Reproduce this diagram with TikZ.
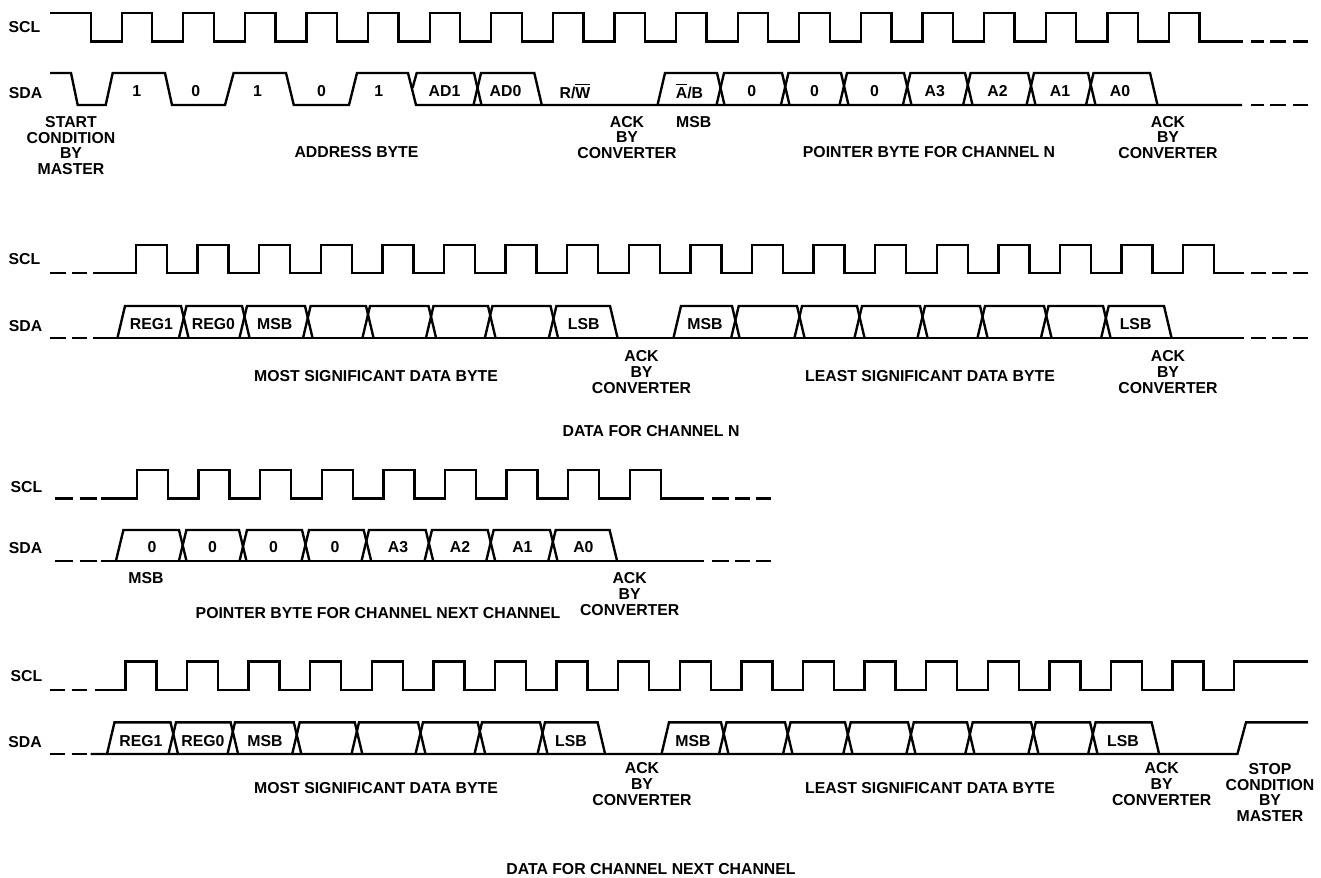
\documentclass[tikz,border=0pt]{standalone}
\usepackage{fontspec}
\setmainfont{Liberation Sans}
\usetikzlibrary{positioning}
\tikzset{
  wave/.style={line width=1.35pt,line join=miter,black},
  lbl/.style={inner sep=0pt,align=center,font=\fontsize{9}{9}\selectfont\bfseries},
}
\newcommand{\footw}{7.5}
\begin{document}
\begin{tikzpicture}[x=0.02cm,y=-0.02cm]
  \useasboundingbox (0,0) rectangle (1321,877);

  % first row
  \node[lbl] (sclA) at (24.5,27) {SCL};
  \node[lbl] (sdaA) at (25.5,92.7) {SDA};
  \draw[wave] (50,13) -- (91.3,13) -- (91.3,41.5)
    \foreach \k in {0,...,17} { -- ({121.7+61.6*\k},41.5) -- ({121.7+61.6*\k},13) -- ({152.2+61.6*\k},13) -- ({152.2+61.6*\k},41.5) }
    -- (1243,41.5);
  \draw[wave] (50,73) -- (71,73) -- (77.7,105) -- (105.7,105) -- (112.7,73) -- (165,73) -- (172,105)
    -- (225,105) -- (233.6,73) -- (286,73) -- (293.8,105) -- (349,105) -- (357,73) -- (408,73) -- (416,105) -- (1242,105);
  \draw[wave] (412.5,88) -- (416.7,73) -- (474,73) -- (481.5,105);
  \foreach \xa/\xb in {481/534.3,665/717,724/782,788.4/841,847/904,910.4/965,970.6/1028,1034/1088,1093.5/1150}
    \draw[wave] (\xa-\footw,105) -- (\xa,73) -- (\xb,73) -- (\xb+\footw,105);
  \foreach \xa/\xb in {1250.5/1264,1270/1286,1293/1308} {
    \draw[wave] (\xa,41.5) -- (\xb,41.5);
    \draw[wave] (\xa,105) -- (\xb,105);
  }
  \foreach \x/\txt [count=\i] in {136.8/1,195.7/0,257.6/1,321.5/0,378.8/1,444.5/AD1,505.5/AD0,575/{R/$\overline{\hbox{W}}$},689.5/{$\overline{\hbox{A}}$/B},751.8/0,814.5/0,874.6/0,934.8/A3,997.5/A2,1060/A1,1120/A0}
    \node[lbl] (bitA\i) at (\x,91) {\txt};
  \node[lbl] (startA) at (71,145.5) {START\\CONDITION\\BY\\MASTER};
  \node[lbl] (addrA) at (356.5,151.7) {ADDRESS BYTE};
  \node[lbl] (ackA) at (627,137.5) {ACK\\BY\\CONVERTER};
  \node[lbl] (msbA) at (693.7,121.7) {MSB};
  \node[lbl] (ptrA) at (929,151.7) {POINTER BYTE FOR CHANNEL N};
  \node[lbl] (ackB) at (1168,137.5) {ACK\\BY\\CONVERTER};

  % second row
  \node[lbl] (sclB) at (24.5,259.5) {SCL};
  \node[lbl] (sdaB) at (25.5,326) {SDA};
  \draw[wave] (93.4,273.3)
    \foreach \k in {0,...,17} { -- ({136+61.6*\k},273.3) -- ({136+61.6*\k},245) -- ({167+61.6*\k},245) -- ({167+61.6*\k},273.3) }
    -- (1244,273.3);
  \draw[wave] (93.4,337.7) -- (1244,337.7);
  \foreach \xa/\xb in {125/181,186.5/242,247/305,310.6/366,370/428.5,433.5/488,492.4/550.5,556.4/610,681/732,738.7/797,802/857,862/920,925/980,985/1044,1048.5/1103,1108.7/1164}
    \draw[wave] (\xa-\footw,337.7) -- (\xa,306) -- (\xb,306) -- (\xb+\footw,337.7);
  \foreach \xa/\xb in {49.7/66,71.5/87,1250.5/1266,1272/1287,1293/1308} {
    \draw[wave] (\xa,273.3) -- (\xb,273.3);
    \draw[wave] (\xa,337.7) -- (\xb,337.7);
  }
  \foreach \x/\txt [count=\i] in {151.5/REG1,213.4/REG0,274.8/MSB,583.7/LSB,705/MSB,1135.6/LSB}
    \node[lbl] (bitB\i) at (\x,324.3) {\txt};
  \node[lbl] (mostB) at (376,375.7) {MOST SIGNIFICANT DATA BYTE};
  \node[lbl] (ackC) at (641.5,372) {ACK\\BY\\CONVERTER};
  \node[lbl] (leastB) at (930,375.7) {LEAST SIGNIFICANT DATA BYTE};
  \node[lbl] (ackD) at (1168,372) {ACK\\BY\\CONVERTER};
  \node[lbl] (dataB) at (651,431) {DATA FOR CHANNEL N};

  % third row
  \node[lbl] (sclC) at (26.5,486.7) {SCL};
  \node[lbl] (sdaC) at (25.5,548) {SDA};
  \draw[wave] (100.8,498.3)
    \foreach \k in {0,...,8} { -- ({137+61.6*\k},498.3) -- ({137+61.6*\k},470) -- ({168+61.6*\k},470) -- ({168+61.6*\k},498.3) }
    -- (704,498.3);
  \draw[wave] (100.8,561) -- (704,561);
  \foreach \xa/\xb in {123.4/179,186.4/239,247/302,309/363.7,369/425.7,432/487.7,493.7/550,555.7/609.6}
    \draw[wave] (\xa-\footw,561) -- (\xa,530) -- (\xb,530) -- (\xb+\footw,561);
  \foreach \xa/\xb in {55.4/73,79.6/97,712/729,735/750,756/771} {
    \draw[wave] (\xa,498.3) -- (\xb,498.3);
    \draw[wave] (\xa,561) -- (\xb,561);
  }
  \foreach \x/\txt [count=\i] in {152/0,212.6/0,273.6/0,335/0,398/A3,460/A2,522.4/A1,583.4/A0}
    \node[lbl] (bitC\i) at (\x,546.7) {\txt};
  \node[lbl] (msbC) at (146,578) {MSB};
  \node[lbl] (ptrC) at (378,613) {POINTER BYTE FOR CHANNEL NEXT CHANNEL};
  \node[lbl] (ackE) at (629.7,594) {ACK\\BY\\CONVERTER};

  % fourth row
  \node[lbl] (sclD) at (26.5,676) {SCL};
  \node[lbl] (sdaD) at (25,742) {SDA};
  \draw[wave] (95,690)
    \foreach \k in {0,...,17} { -- ({125.4+61.6*\k},690) -- ({125.4+61.6*\k},661.3) -- ({156.4+61.6*\k},661.3) -- ({156.4+61.6*\k},690) }
    -- (1233.7,690) -- (1233.7,661.3) -- (1308,661.3);
  \draw[wave] (90.5,754) -- (1237.4,754) -- (1246,722.3) -- (1308,722.3);
  \foreach \xa/\xb in {114.5/170.5,176/230.6,235/293.8,299.7/354.8,359/418,423/477.7,482/540,545/597.6,669/721,726.5/785,790.5/845,850.7/908,913.8/967,972.7/1031,1035.8/1090,1095.6/1151.6}
    \draw[wave] (\xa-\footw,754) -- (\xa,722.3) -- (\xb,722.3) -- (\xb+\footw,754);
  \foreach \xa/\xb in {49.7/65,71.5/87} {
    \draw[wave] (\xa,690) -- (\xb,690);
    \draw[wave] (\xa,754) -- (\xb,754);
  }
  \foreach \x/\txt [count=\i] in {141/REG1,203/REG0,265/MSB,571/LSB,693/MSB,1123/LSB}
    \node[lbl] (bitD\i) at (\x,740.7) {\txt};
  \node[lbl] (mostD) at (376,787.7) {MOST SIGNIFICANT DATA BYTE};
  \node[lbl] (ackF) at (642,784) {ACK\\BY\\CONVERTER};
  \node[lbl] (leastD) at (930,787.7) {LEAST SIGNIFICANT DATA BYTE};
  \node[lbl] (ackG) at (1161.7,784) {ACK\\BY\\CONVERTER};
  \node[lbl] (stopD) at (1270,792.5) {STOP\\CONDITION\\BY\\MASTER};
  \node[lbl] (dataD) at (651,869) {DATA FOR CHANNEL NEXT CHANNEL};
\end{tikzpicture}
\end{document}
